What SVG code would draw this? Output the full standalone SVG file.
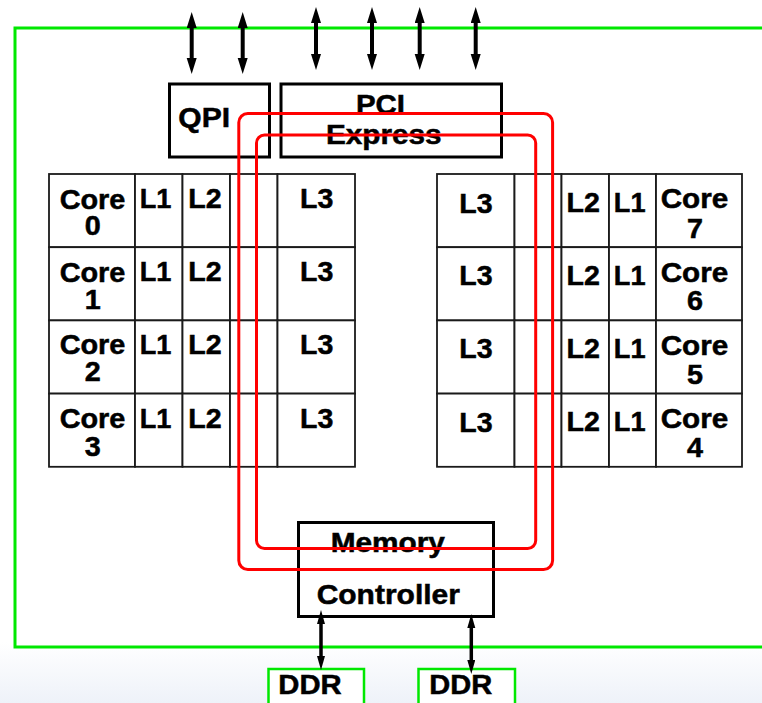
<svg xmlns="http://www.w3.org/2000/svg" width="762" height="703" viewBox="0 0 762 703">
<defs>
<linearGradient id="bg" x1="0" y1="0" x2="0" y2="1">
<stop offset="0" stop-color="#ffffff"/>
<stop offset="1" stop-color="#eef2f9"/>
</linearGradient>
<marker id="arr" markerUnits="userSpaceOnUse" markerWidth="17" markerHeight="11" refX="6" refY="5" orient="auto-start-reverse">
<path d="M0,0 L16,5 L0,10 z" fill="#000"/>
</marker>
<marker id="arrs" markerUnits="userSpaceOnUse" markerWidth="15" markerHeight="9" refX="5" refY="4" orient="auto-start-reverse">
<path d="M0,0 L14,4 L0,8 z" fill="#000"/>
</marker>
<style>
.t{font-family:"Liberation Sans",Arial,sans-serif;font-weight:bold;font-size:27px;fill:#000;stroke:#000;stroke-width:0.5;text-anchor:middle}
.box{fill:none;stroke:#000;stroke-width:3}
.cell{fill:#fff;stroke:#1a1a1a;stroke-width:1.8}
.ring{fill:none;stroke:#f00;stroke-width:3}
.chip{fill:none;stroke:#00e800;stroke-width:3}
.ddr{fill:#fff;stroke:#00e800;stroke-width:2.5}
.ar{stroke:#000;stroke-width:4;marker-start:url(#arr);marker-end:url(#arr)}
.ars{stroke:#000;stroke-width:3.5;marker-start:url(#arrs);marker-end:url(#arrs)}
</style>
</defs>
<rect x="0" y="0" width="762" height="703" fill="#fff"/>
<rect x="0" y="642" width="762" height="61" fill="url(#bg)"/>

<g id="chip"><rect class="chip" x="15" y="28" width="770" height="619"/></g>

<g id="qpi">
<rect class="box" x="169.5" y="84" width="100" height="73"/>
<text class="t" x="204.2" y="126.7" textLength="51.7" lengthAdjust="spacingAndGlyphs">QPI</text>
</g>
<g id="pci">
<rect class="box" x="281" y="84" width="220.5" height="73"/>
<text class="t" x="380.5" y="113.5" textLength="49" lengthAdjust="spacingAndGlyphs">PCI</text>
<text class="t" x="383.8" y="143.5" textLength="115.7" lengthAdjust="spacingAndGlyphs">Express</text>
</g>

<g id="core0">
<rect class="cell" x="49" y="174" width="86" height="73.2"/>
<rect class="cell" x="135" y="174" width="47.5" height="73.2"/>
<rect class="cell" x="182.5" y="174" width="47.5" height="73.2"/>
<rect class="cell" x="230" y="174" width="47.5" height="73.2"/>
<rect class="cell" x="277.5" y="174" width="77.5" height="73.2"/>
<text class="t" x="92.5" y="208.5" textLength="65.7" lengthAdjust="spacingAndGlyphs">Core</text>
<text class="t" x="92.7" y="235" textLength="16" lengthAdjust="spacingAndGlyphs">0</text>
<text class="t" x="155.5" y="208" textLength="31.7" lengthAdjust="spacingAndGlyphs">L1</text>
<text class="t" x="205" y="208" textLength="33.4" lengthAdjust="spacingAndGlyphs">L2</text>
<text class="t" x="316.7" y="208" textLength="33.3" lengthAdjust="spacingAndGlyphs">L3</text>
</g>
<g id="core1">
<rect class="cell" x="49" y="247.2" width="86" height="73.2"/>
<rect class="cell" x="135" y="247.2" width="47.5" height="73.2"/>
<rect class="cell" x="182.5" y="247.2" width="47.5" height="73.2"/>
<rect class="cell" x="230" y="247.2" width="47.5" height="73.2"/>
<rect class="cell" x="277.5" y="247.2" width="77.5" height="73.2"/>
<text class="t" x="92.5" y="281.5" textLength="65.7" lengthAdjust="spacingAndGlyphs">Core</text>
<text class="t" x="92.7" y="309" textLength="16" lengthAdjust="spacingAndGlyphs">1</text>
<text class="t" x="155.5" y="281.2" textLength="31.7" lengthAdjust="spacingAndGlyphs">L1</text>
<text class="t" x="205" y="281.2" textLength="33.4" lengthAdjust="spacingAndGlyphs">L2</text>
<text class="t" x="316.7" y="281.2" textLength="33.3" lengthAdjust="spacingAndGlyphs">L3</text>
</g>
<g id="core2">
<rect class="cell" x="49" y="320.4" width="86" height="73.2"/>
<rect class="cell" x="135" y="320.4" width="47.5" height="73.2"/>
<rect class="cell" x="182.5" y="320.4" width="47.5" height="73.2"/>
<rect class="cell" x="230" y="320.4" width="47.5" height="73.2"/>
<rect class="cell" x="277.5" y="320.4" width="77.5" height="73.2"/>
<text class="t" x="92.5" y="354.3" textLength="65.7" lengthAdjust="spacingAndGlyphs">Core</text>
<text class="t" x="92.7" y="381" textLength="16" lengthAdjust="spacingAndGlyphs">2</text>
<text class="t" x="155.5" y="354.3" textLength="31.7" lengthAdjust="spacingAndGlyphs">L1</text>
<text class="t" x="205" y="354.3" textLength="33.4" lengthAdjust="spacingAndGlyphs">L2</text>
<text class="t" x="316.7" y="354.3" textLength="33.3" lengthAdjust="spacingAndGlyphs">L3</text>
</g>
<g id="core3">
<rect class="cell" x="49" y="393.6" width="86" height="73.2"/>
<rect class="cell" x="135" y="393.6" width="47.5" height="73.2"/>
<rect class="cell" x="182.5" y="393.6" width="47.5" height="73.2"/>
<rect class="cell" x="230" y="393.6" width="47.5" height="73.2"/>
<rect class="cell" x="277.5" y="393.6" width="77.5" height="73.2"/>
<text class="t" x="92.5" y="427.5" textLength="65.7" lengthAdjust="spacingAndGlyphs">Core</text>
<text class="t" x="92.7" y="455.5" textLength="16" lengthAdjust="spacingAndGlyphs">3</text>
<text class="t" x="155.5" y="427.5" textLength="31.7" lengthAdjust="spacingAndGlyphs">L1</text>
<text class="t" x="205" y="427.5" textLength="33.4" lengthAdjust="spacingAndGlyphs">L2</text>
<text class="t" x="316.7" y="427.5" textLength="33.3" lengthAdjust="spacingAndGlyphs">L3</text>
</g>

<g id="core7">
<rect class="cell" x="437" y="174" width="77.5" height="73.2"/>
<rect class="cell" x="514.5" y="174" width="47" height="73.2"/>
<rect class="cell" x="561.5" y="174" width="47.5" height="73.2"/>
<rect class="cell" x="609" y="174" width="47" height="73.2"/>
<rect class="cell" x="656" y="174" width="86" height="73.2"/>
<text class="t" x="476" y="212.5" textLength="33.3" lengthAdjust="spacingAndGlyphs">L3</text>
<text class="t" x="583.3" y="212" textLength="33.4" lengthAdjust="spacingAndGlyphs">L2</text>
<text class="t" x="629.7" y="212" textLength="31.7" lengthAdjust="spacingAndGlyphs">L1</text>
<text class="t" x="694.5" y="208.3" textLength="67.6" lengthAdjust="spacingAndGlyphs">Core</text>
<text class="t" x="695" y="237.5" textLength="16" lengthAdjust="spacingAndGlyphs">7</text>
</g>
<g id="core6">
<rect class="cell" x="437" y="247.2" width="77.5" height="73.2"/>
<rect class="cell" x="514.5" y="247.2" width="47" height="73.2"/>
<rect class="cell" x="561.5" y="247.2" width="47.5" height="73.2"/>
<rect class="cell" x="609" y="247.2" width="47" height="73.2"/>
<rect class="cell" x="656" y="247.2" width="86" height="73.2"/>
<text class="t" x="476" y="285.2" textLength="33.3" lengthAdjust="spacingAndGlyphs">L3</text>
<text class="t" x="583.3" y="285" textLength="33.4" lengthAdjust="spacingAndGlyphs">L2</text>
<text class="t" x="629.7" y="285" textLength="31.7" lengthAdjust="spacingAndGlyphs">L1</text>
<text class="t" x="694.5" y="281.5" textLength="67.6" lengthAdjust="spacingAndGlyphs">Core</text>
<text class="t" x="695" y="310" textLength="16" lengthAdjust="spacingAndGlyphs">6</text>
</g>
<g id="core5">
<rect class="cell" x="437" y="320.4" width="77.5" height="73.2"/>
<rect class="cell" x="514.5" y="320.4" width="47" height="73.2"/>
<rect class="cell" x="561.5" y="320.4" width="47.5" height="73.2"/>
<rect class="cell" x="609" y="320.4" width="47" height="73.2"/>
<rect class="cell" x="656" y="320.4" width="86" height="73.2"/>
<text class="t" x="476" y="358.3" textLength="33.3" lengthAdjust="spacingAndGlyphs">L3</text>
<text class="t" x="583.3" y="358" textLength="33.4" lengthAdjust="spacingAndGlyphs">L2</text>
<text class="t" x="629.7" y="358" textLength="31.7" lengthAdjust="spacingAndGlyphs">L1</text>
<text class="t" x="694.5" y="354.5" textLength="67.6" lengthAdjust="spacingAndGlyphs">Core</text>
<text class="t" x="695" y="383.5" textLength="16" lengthAdjust="spacingAndGlyphs">5</text>
</g>
<g id="core4">
<rect class="cell" x="437" y="393.6" width="77.5" height="73.2"/>
<rect class="cell" x="514.5" y="393.6" width="47" height="73.2"/>
<rect class="cell" x="561.5" y="393.6" width="47.5" height="73.2"/>
<rect class="cell" x="609" y="393.6" width="47" height="73.2"/>
<rect class="cell" x="656" y="393.6" width="86" height="73.2"/>
<text class="t" x="476" y="431.5" textLength="33.3" lengthAdjust="spacingAndGlyphs">L3</text>
<text class="t" x="583.3" y="431.2" textLength="33.4" lengthAdjust="spacingAndGlyphs">L2</text>
<text class="t" x="629.7" y="431.2" textLength="31.7" lengthAdjust="spacingAndGlyphs">L1</text>
<text class="t" x="694.5" y="427.7" textLength="67.6" lengthAdjust="spacingAndGlyphs">Core</text>
<text class="t" x="695" y="456.5" textLength="16" lengthAdjust="spacingAndGlyphs">4</text>
</g>

<g id="memctrl">
<rect class="box" x="298.5" y="522.5" width="195" height="94"/>
<text class="t" x="387.8" y="551.7" textLength="114.3" lengthAdjust="spacingAndGlyphs">Memory</text>
<text class="t" x="388.3" y="604.3" textLength="143.3" lengthAdjust="spacingAndGlyphs">Controller</text>
</g>

<g id="ddr1">
<rect class="ddr" x="268.5" y="669" width="95.5" height="40"/>
<text class="t" x="310" y="694" textLength="63.4" lengthAdjust="spacingAndGlyphs">DDR</text>
</g>
<g id="ddr2">
<rect class="ddr" x="418.5" y="669" width="96.5" height="40"/>
<text class="t" x="460.8" y="694" textLength="63" lengthAdjust="spacingAndGlyphs">DDR</text>
</g>

<g id="connectors">
<line class="ar" x1="191.7" y1="22" x2="191.7" y2="64"/>
<line class="ar" x1="242.7" y1="22" x2="242.7" y2="64"/>
<line class="ar" x1="316" y1="17" x2="316" y2="60"/>
<line class="ar" x1="372" y1="17" x2="372" y2="60"/>
<line class="ar" x1="419.7" y1="17" x2="419.7" y2="60"/>
<line class="ar" x1="475.7" y1="17" x2="475.7" y2="60"/>
<line class="ars" x1="321" y1="619" x2="321" y2="661"/>
<line class="ars" x1="471.3" y1="623" x2="471.3" y2="665"/>
<rect class="ring" x="238.8" y="113.5" width="313.8" height="456" rx="9"/>
<rect class="ring" x="256.5" y="135" width="279.2" height="413.5" rx="8"/>
</g>
</svg>
